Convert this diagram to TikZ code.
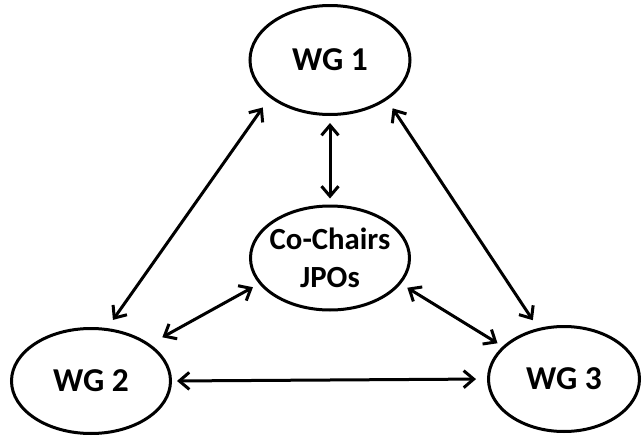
\documentclass[tikz,border=0pt]{standalone}
\usepackage{fontspec}
\setmainfont{Carlito}
\usetikzlibrary{shapes.geometric,arrows.meta}

\tikzset{
  wg/.style={draw, ellipse, line width=0.06cm, inner sep=0pt, font=\fontsize{19}{21.6}\selectfont\bfseries, align=center},
  link/.style={line width=0.06cm, {Straight Barb[length=0.2cm,width=0.34cm]}-{Straight Barb[length=0.2cm,width=0.34cm]}}
}

\begin{document}
\begin{tikzpicture}
\useasboundingbox (0,0) rectangle (12.86,-8.74);

\node[wg, minimum width=3.2cm, minimum height=2.18cm] (wg1) at (6.6,-1.2) {WG 1};
\node[wg, inner sep=-0.22cm, font=\fontsize{17.5}{21.6}\selectfont\bfseries, minimum width=3.18cm, minimum height=2.08cm] (chairs) at (6.6,-5.16) {Co-Chairs\\JPOs};
\node[wg, minimum width=3.18cm, minimum height=2.1cm] (wg2) at (1.82,-7.62) {WG 2};
\node[wg, minimum width=3.02cm, minimum height=2.1cm] (wg3) at (11.28,-7.58) {WG 3};

\draw[link, shorten <=0.24cm, shorten >=0.2cm] (wg1.212) -- (wg2.73);
\draw[link, shorten <=0.2cm, shorten >=0.19cm] (wg1.325) -- (wg3.117);
\draw[link, shorten <=0.14cm, shorten >=0.12cm] (wg1.south) -- (chairs.north);

\draw[link, shorten <=0.14cm, shorten >=0.28cm] (chairs.200) -- (wg2.32);
\draw[link, shorten <=0.15cm, shorten >=0.12cm] (chairs.340) -- (wg3.152);

\draw[link, shorten <=0.1cm, shorten >=0.22cm] (wg2.east) -- (wg3.west);
\end{tikzpicture}
\end{document}
